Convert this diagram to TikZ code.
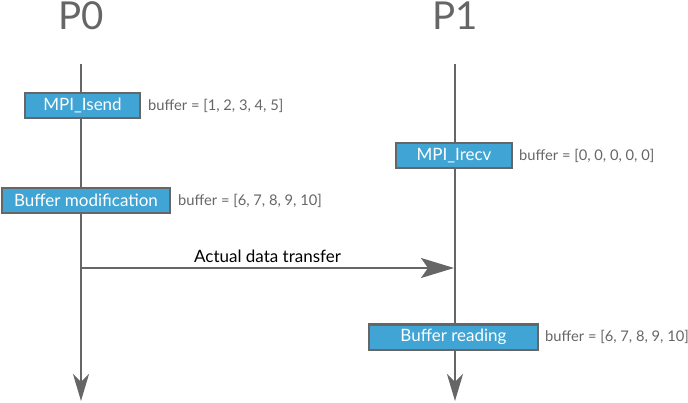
\documentclass[tikz,border=0pt]{standalone}
\usepackage{fontspec}
\setmainfont{Lato}
\usetikzlibrary{arrows.meta, positioning}
\definecolor{procgray}{HTML}{666666}
\definecolor{eventblue}{HTML}{40A4D4}

\begin{document}
\begin{tikzpicture}[
            x=1pt, y=-1pt,
            timeline/.style={line width=2pt, draw=procgray,
                -{Stealth[length=27pt, width=16pt, inset=8pt]}},
            transfer/.style={line width=2pt, draw=procgray,
                -{Stealth[length=33pt, width=20pt, inset=7pt]}},
            event/.style={draw=procgray, line width=2pt, fill=eventblue,
                text=white, font=\fontsize{17}{20}\selectfont,
                minimum height=25pt, inner sep=0pt},
            state/.style={text=procgray, font=\fontsize{14.7}{17}\selectfont,
                inner sep=0pt, anchor=west},
            proc/.style={text=procgray, font=\fontsize{38.5}{44}\selectfont,
                anchor=base, inner sep=0pt}
        ]
            \useasboundingbox (0, 0) rectangle (688, 403);

            % processes and their time lines
            \node[proc] (p0) at (81, 30) {P0};
            \node[proc] (p1) at (455, 30) {P1};
            \coordinate (top0) at (81, 64);
            \coordinate (end0) at (81, 401);
            \coordinate (top1) at (455, 64);
            \coordinate (end1) at (455, 401);

            \foreach \t in {0, 1} {
                \draw[timeline] (top\t) -- (end\t);
            }

            % data transfer
            \coordinate (send) at (81, 268);
            \coordinate (recv) at (454, 268);
            \draw[transfer] (send) -- (recv)
                node[midway, above, inner sep=4pt, font=\fontsize{17}{20}\selectfont] (lbl) {Actual data transfer};

            % events on P0
            \node[event, minimum width=115pt] (isend) at (82.5, 105.5) {MPI\_Isend};
            \node[state, right=7pt of isend] (b0) {buffer = [1, 2, 3, 4, 5]};
            \node[event, minimum width=168pt] (modif) at (86, 200.5) {Buffer modification};
            \node[state, right=7pt of modif] (b1) {buffer = [6, 7, 8, 9, 10]};

            % events on P1
            \node[event, minimum width=116pt] (irecv) at (454, 156) {MPI\_Irecv};
            \node[state, right=6pt of irecv] (b2) {buffer = [0, 0, 0, 0, 0]};
            \node[event, minimum width=169pt] (read) at (453.5, 337) {Buffer reading};
            \node[state, right=6pt of read] (b3) {buffer = [6, 7, 8, 9, 10]};
        \end{tikzpicture}
\end{document}
